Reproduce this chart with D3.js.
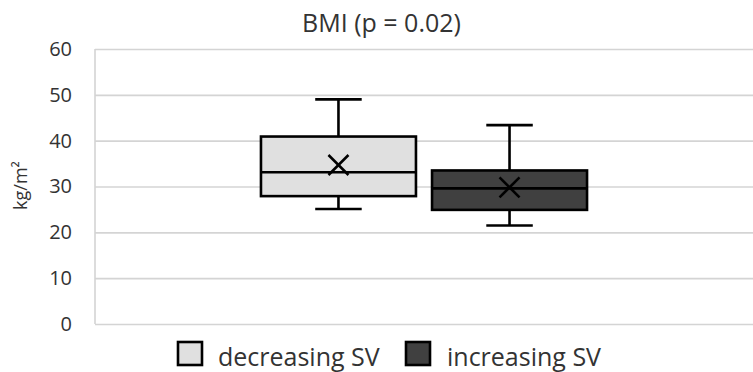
<!DOCTYPE html>
<html><head><meta charset="utf-8">
<script src="https://cdn.jsdelivr.net/npm/d3@7"></script>
<style>body{margin:0;background:#fff}svg{display:block}</style>
</head><body>
<svg id="chart" width="753" height="372"></svg>
<script>
const title = "BMI (p = 0.02)";
const yLabel = "kg/m²";
const categories = ["BMI"];
const series = ["decreasing SV", "increasing SV"];
const colors = ["#e0e0e0", "#404040"];
const whiskerLow = [25.1, 21.5];
const q1 = [27.9, 24.9];
const median = [33.1, 29.6];
const q3 = [40.9, 33.5];
const whiskerHigh = [49.0, 43.4];
const means = [34.7, 29.8];
const yTicks = [0, 10, 20, 30, 40, 50, 60];

(function () {
const svg = d3.select("#chart");
const font = "'Open Sans', sans-serif";
const txt = "#333333";
const pLeft = 95, pRight = 753, pTop = 49, pBottom = 324;

const y = d3.scaleLinear().domain([0, 60]).range([pBottom, pTop]);
const x0 = d3.scaleBand().domain(categories).range([pLeft, pRight]).paddingInner(0).paddingOuter(0.509);
const x1 = d3.scaleBand().domain(series).range([0, x0.bandwidth()]).paddingInner(0.094).paddingOuter(0);

// gridlines
const yAxis = d3.axisLeft(y).tickValues(yTicks).tickSize(-(pRight - pLeft)).tickPadding(23).tickFormat(d3.format("d"));
const ga = svg.append("g").attr("transform", `translate(${pLeft},0)`).call(yAxis);
ga.select(".domain").remove();
ga.selectAll(".tick line").attr("stroke", "#d4d4d4").attr("stroke-width", 1.6);
ga.selectAll(".tick text").attr("font-family", font).attr("font-size", 20).attr("fill", txt);
// left axis line
svg.append("line").attr("x1", pLeft).attr("x2", pLeft).attr("y1", y(60)).attr("y2", y(0))
  .attr("stroke", "#d4d4d4").attr("stroke-width", 1.6);

// title
svg.append("text").attr("x", 381.5).attr("y", 31.5).attr("text-anchor", "middle")
  .attr("font-family", font).attr("font-size", 25).attr("fill", txt).text(title);
// y label
svg.append("text").attr("transform", `translate(27,${y(30) - 1}) rotate(-90)`).attr("text-anchor", "middle")
  .attr("font-family", font).attr("font-size", 18).attr("fill", txt).text(yLabel);

// boxes
series.forEach((s, i) => {
  const bx = x0(categories[0]) + x1(s);
  const bw = x1.bandwidth();
  const cx = bx + bw / 2;
  const capW = bw * 0.3;
  const g = svg.append("g").attr("stroke", "#000").attr("stroke-width", 2.6).attr("fill", "none");
  g.append("line").attr("x1", cx).attr("x2", cx).attr("y1", y(whiskerHigh[i])).attr("y2", y(q3[i]));
  g.append("line").attr("x1", cx).attr("x2", cx).attr("y1", y(q1[i])).attr("y2", y(whiskerLow[i]));
  g.append("line").attr("x1", cx - capW / 2).attr("x2", cx + capW / 2).attr("y1", y(whiskerHigh[i])).attr("y2", y(whiskerHigh[i]));
  g.append("line").attr("x1", cx - capW / 2).attr("x2", cx + capW / 2).attr("y1", y(whiskerLow[i])).attr("y2", y(whiskerLow[i]));
  g.append("rect").attr("x", bx).attr("y", y(q3[i])).attr("width", bw).attr("height", y(q1[i]) - y(q3[i]))
    .attr("fill", colors[i]);
  g.append("line").attr("x1", bx).attr("x2", bx + bw).attr("y1", y(median[i])).attr("y2", y(median[i]));
  const my = y(means[i]), r = 10;
  g.append("line").attr("x1", cx - r).attr("x2", cx + r).attr("y1", my - r).attr("y2", my + r);
  g.append("line").attr("x1", cx - r).attr("x2", cx + r).attr("y1", my + r).attr("y2", my - r);
});

// legend
const legX = [178, 406], legTextX = [218, 447];
series.forEach((s, i) => {
  svg.append("rect").attr("x", legX[i]).attr("y", 342).attr("width", 24).attr("height", 23)
    .attr("fill", colors[i]).attr("stroke", "#000").attr("stroke-width", 2.6);
  svg.append("text").attr("x", legTextX[i]).attr("y", 366).attr("font-family", font)
    .attr("font-size", 25).attr("fill", txt).text(s);
});
})();
</script>
</body></html>
